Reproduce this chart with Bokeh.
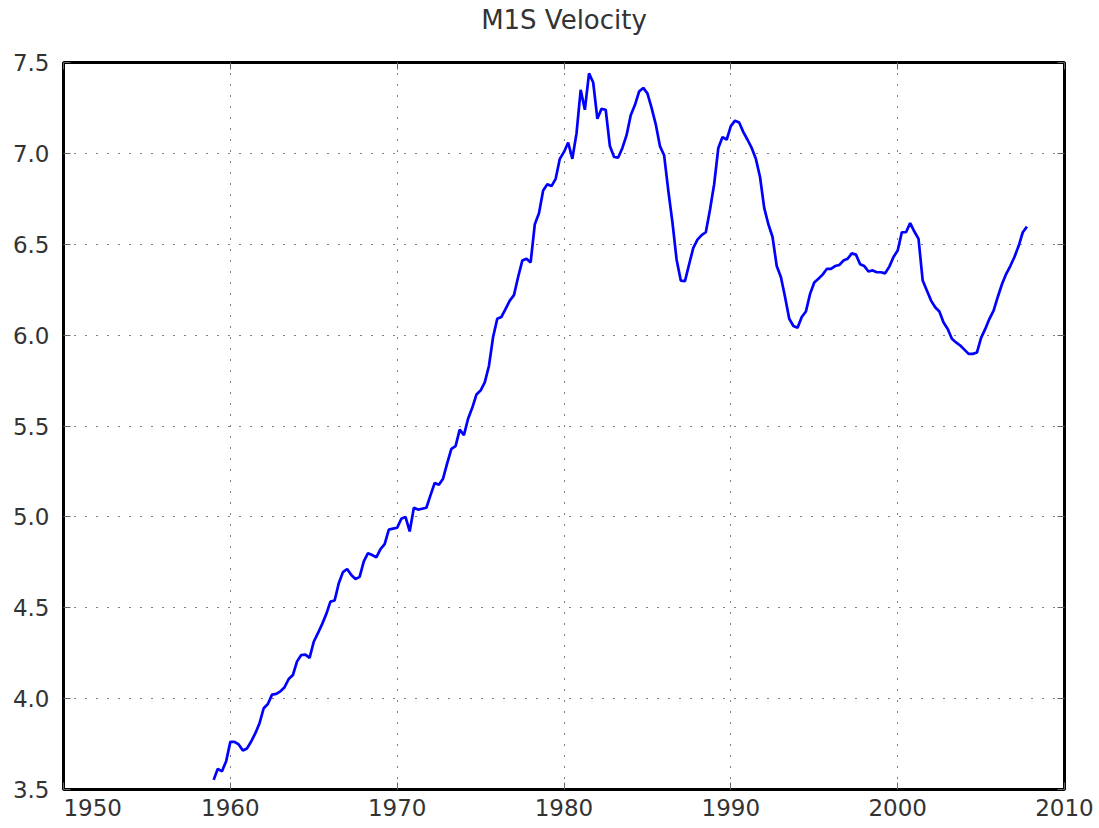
from bokeh.plotting import figure
from bokeh.models import LinearAxis, FixedTicker, PrintfTickFormatter, Range1d
from bokeh.embed import file_html
from bokeh.resources import INLINE

title_text = "M1S Velocity"
x_ticks = [1950, 1960, 1970, 1980, 1990, 2000, 2010]
y_ticks = [3.5, 4.0, 4.5, 5.0, 5.5, 6.0, 6.5, 7.0, 7.5]
start_year = 1959.0

# quarterly values, 1959Q1 .. 2007Q4
m1s_velocity = [
    3.553, 3.614, 3.600, 3.656,   # 1959
    3.762, 3.762, 3.748, 3.715,   # 1960
    3.726, 3.764, 3.810, 3.865,   # 1961
    3.947, 3.970, 4.022, 4.026,   # 1962
    4.040, 4.063, 4.108, 4.130,   # 1963
    4.205, 4.240, 4.242, 4.224,   # 1964
    4.313, 4.360, 4.410, 4.465,   # 1965
    4.534, 4.540, 4.635, 4.696,   # 1966
    4.713, 4.680, 4.658, 4.670,   # 1967
    4.755, 4.800, 4.790, 4.777,   # 1968
    4.823, 4.850, 4.930, 4.935,   # 1969
    4.940, 4.990, 5.000, 4.920,   # 1970
    5.050, 5.040, 5.045, 5.050,   # 1971
    5.120, 5.187, 5.177, 5.210,   # 1972
    5.296, 5.374, 5.389, 5.480,   # 1973
    5.450, 5.540, 5.600, 5.673,   # 1974
    5.695, 5.740, 5.830, 5.990,   # 1975
    6.090, 6.100, 6.145, 6.190,   # 1976
    6.220, 6.320, 6.410, 6.420,   # 1977
    6.400, 6.610, 6.670, 6.796,   # 1978
    6.830, 6.820, 6.860, 6.970,   # 1979
    7.008, 7.060, 6.970, 7.110,   # 1980
    7.350, 7.240, 7.440, 7.390,   # 1981
    7.190, 7.245, 7.240, 7.040,   # 1982
    6.980, 6.977, 7.030, 7.100,   # 1983
    7.210, 7.266, 7.340, 7.360,   # 1984
    7.330, 7.250, 7.160, 7.040,   # 1985
    6.990, 6.796, 6.620, 6.415,   # 1986
    6.300, 6.297, 6.390, 6.480,   # 1987
    6.525, 6.550, 6.566, 6.690,   # 1988
    6.830, 7.030, 7.090, 7.075,   # 1989
    7.150, 7.180, 7.170, 7.117,   # 1990
    7.075, 7.030, 6.970, 6.870,   # 1991
    6.700, 6.610, 6.540, 6.380,   # 1992
    6.320, 6.210, 6.090, 6.050,   # 1993
    6.040, 6.100, 6.130, 6.227,   # 1994
    6.290, 6.310, 6.333, 6.364,   # 1995
    6.364, 6.380, 6.386, 6.410,   # 1996
    6.420, 6.450, 6.443, 6.390,   # 1997
    6.380, 6.350, 6.356, 6.346,   # 1998
    6.346, 6.340, 6.377, 6.430,   # 1999
    6.466, 6.566, 6.566, 6.616,   # 2000
    6.570, 6.530, 6.300, 6.245,   # 2001
    6.190, 6.153, 6.130, 6.070,   # 2002
    6.034, 5.980, 5.960, 5.943,   # 2003
    5.920, 5.897, 5.897, 5.904,   # 2004
    5.985, 6.034, 6.090, 6.135,   # 2005
    6.210, 6.280, 6.336, 6.380,   # 2006
    6.430, 6.490, 6.566, 6.597,   # 2007
]
quarter_dates = [start_year + i * 0.25 for i in range(len(m1s_velocity))]

FONT = "DejaVu Sans"

p = figure(width=1099, height=828, output_backend="svg", toolbar_location=None,
           x_range=Range1d(x_ticks[0], x_ticks[-1]),
           y_range=Range1d(y_ticks[0], y_ticks[-1]),
           min_border_left=63, min_border_right=35,
           min_border_top=62, min_border_bottom=39)
p.title = None

p.background_fill_color = "white"
p.border_fill_color = "white"
p.outline_line_color = "black"
p.outline_line_width = 3

p.xaxis.ticker = FixedTicker(ticks=x_ticks)
p.yaxis.ticker = FixedTicker(ticks=y_ticks)
p.yaxis.formatter = PrintfTickFormatter(format="%.1f")
p.xaxis.major_label_overrides = {1950: "\u00a0" * 8 + "1950"}

top_axis = LinearAxis(ticker=FixedTicker(ticks=x_ticks))
right_axis = LinearAxis(ticker=FixedTicker(ticks=y_ticks))
top_axis.major_label_overrides = {t: "" for t in x_ticks}
right_axis.major_label_overrides = {t: "" for t in y_ticks}
p.add_layout(top_axis, "above")
p.add_layout(right_axis, "right")


def style_axis(ax, labels):
    ax.axis_line_color = None
    ax.major_tick_in = 7
    ax.major_tick_out = 0
    ax.major_tick_line_color = "#666666"
    ax.major_tick_line_width = 1
    ax.minor_tick_line_color = None
    if labels:
        ax.major_label_text_font = FONT
        ax.major_label_text_font_size = "23px"
        ax.major_label_text_color = "#333333"
    else:
        ax.major_label_text_font_size = "1px"
        ax.major_label_standoff = 0


for ax in p.xaxis:
    style_axis(ax, ax is not top_axis)
for ax in p.yaxis:
    style_axis(ax, ax is not right_axis)

# chart title carried by the top axis, centred over the frame
top_axis.axis_label = title_text
top_axis.axis_label_text_font = FONT
top_axis.axis_label_text_font_style = "normal"
top_axis.axis_label_text_font_size = "26px"
top_axis.axis_label_text_color = "#333333"
top_axis.axis_label_standoff = 28

p.xaxis[0].major_label_standoff = 26
p.yaxis[0].major_label_standoff = 14

p.grid.grid_line_color = "black"
p.grid.grid_line_alpha = 1.0
p.grid.grid_line_width = 1
p.grid.grid_line_dash = "1 10"

p.line(quarter_dates, m1s_velocity, line_color="#0000ff", line_width=2.7)

open("out.html", "w").write(file_html(p, INLINE))
